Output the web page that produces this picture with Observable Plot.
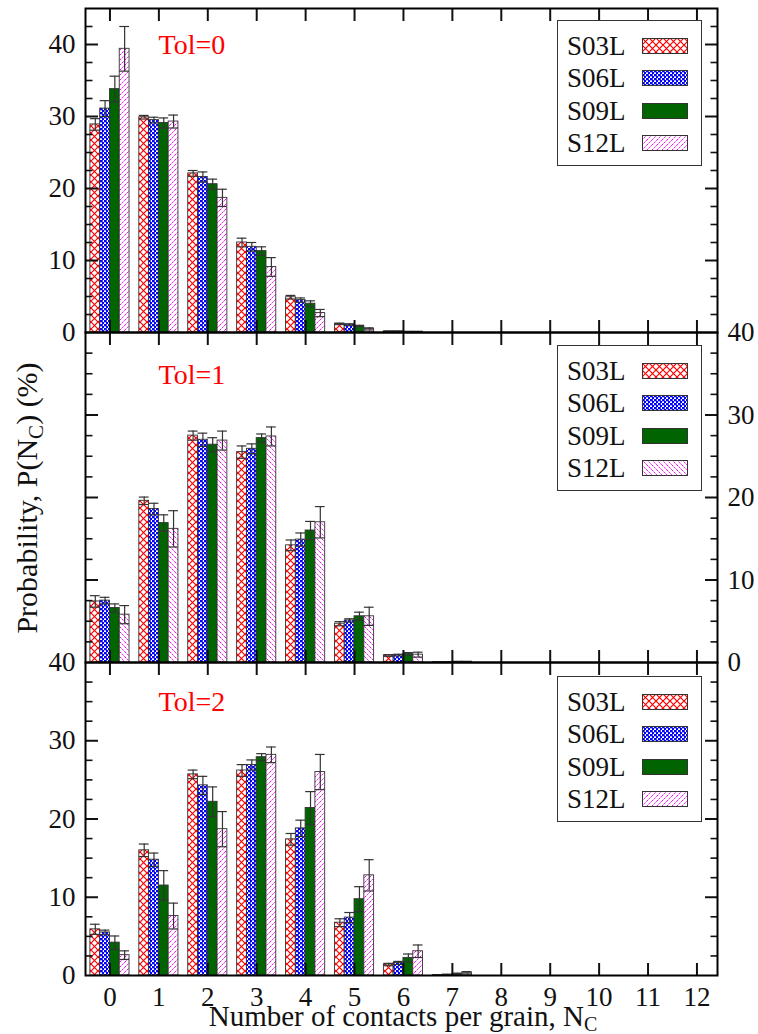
<!DOCTYPE html>
<html>
<head>
<meta charset="utf-8">
<script src="https://cdn.jsdelivr.net/npm/d3@7"></script>
<script src="https://cdn.jsdelivr.net/npm/@observablehq/plot@0.6"></script>
<style>
  html, body { margin: 0; padding: 0; background: #fff; }
  #wrap { position: relative; width: 758px; height: 1034px; overflow: hidden; font-family: "Liberation Serif", serif; }
  #wrap .panel { position: absolute; left: 0; }
  .legend { position: absolute; left: 557px; width: 143px; height: 144px; border: 1.3px solid #333; background: #fff; }
  .legend .row { position: absolute; left: 0; width: 143px; height: 32px; display: flex; align-items: center; }
  .legend .row span { position: absolute; left: 9px; font-size: 27px; line-height: 32px; color: #111; }
  .legend .row svg { position: absolute; left: 84px; top: 8px; }
  #overlay { position: absolute; left: 0; top: 0; pointer-events: none; }
</style>
</head>
<body>
<svg width="0" height="0" style="position:absolute">
  <defs>
    <pattern id="pRed" patternUnits="userSpaceOnUse" width="7" height="7">
      <rect width="7" height="7" fill="#fff"/>
      <path d="M0,0L7,7M7,0L0,7" stroke="#ff0000" stroke-width="1.2" fill="none"/>
    </pattern>
    <pattern id="pBlue" patternUnits="userSpaceOnUse" width="4" height="4">
      <rect width="4" height="4" fill="#fff"/>
      <rect x="0" y="0" width="2.3" height="2.3" fill="#0000ff"/>
      <rect x="2" y="2" width="2.3" height="2.3" fill="#0000ff"/>
      <rect x="2" y="0" width="0.6" height="4" fill="#0000ff"/>
    </pattern>
    <pattern id="pGreen" patternUnits="userSpaceOnUse" width="4" height="4">
      <rect width="4" height="4" fill="#006400"/>
    </pattern>
    <pattern id="pPinkF" patternUnits="userSpaceOnUse" width="5" height="5">
      <rect width="5" height="5" fill="#fff"/>
      <path d="M0,5L5,0M-1,1L1,-1M4,6L6,4" stroke="#ff00ff" stroke-width="1" stroke-dasharray="2 1" fill="none"/>
    </pattern>
    <pattern id="pPinkB" patternUnits="userSpaceOnUse" width="5" height="5">
      <rect width="5" height="5" fill="#fff"/>
      <path d="M0,0L5,5M-1,4L1,6M4,-1L6,1" stroke="#ff00ff" stroke-width="1" stroke-dasharray="2 1" fill="none"/>
    </pattern>
  </defs>
</svg>
<div id="wrap"></div>
<script>
// ---------------- data ----------------
const contacts = [0, 1, 2, 3, 4, 5, 6, 7, 8, 9, 10, 11, 12];
const seriesNames = ["S03L", "S06L", "S09L", "S12L"];
const yLabelTicks = [0, 10, 20, 30, 40];
const panelTitles = ["Tol=0", "Tol=1", "Tol=2"];

// Tol=0 (rows: S03L, S06L, S09L, S12L; columns: N_C = 0,1,2,...)
const tol0Values = [
  [28.9, 29.9, 22.1, 12.5, 4.9, 1.2, 0.15],
  [31.1, 29.5, 21.6, 11.9, 4.5, 1.1, 0.15],
  [33.8, 29.1, 20.6, 11.3, 4.0, 0.9, 0.1],
  [39.4, 29.3, 18.7, 9.1, 2.7, 0.5, 0.1]
];
const tol0Errors = [
  [0.8, 0.25, 0.4, 0.6, 0.25, 0.1, 0.05],
  [1.1, 0.4, 0.7, 0.6, 0.3, 0.1, 0.05],
  [1.8, 0.7, 0.7, 0.6, 0.4, 0.1, 0.05],
  [3.1, 0.9, 1.2, 1.3, 0.5, 0.15, 0.05]
];

// Tol=1
const tol1Values = [
  [7.4, 19.6, 27.5, 25.5, 14.2, 4.7, 0.85, 0.05],
  [7.5, 18.6, 27.0, 25.9, 14.9, 5.1, 0.9, 0.05],
  [6.6, 16.9, 26.4, 27.2, 16.0, 5.6, 1.05, 0.1],
  [5.8, 16.2, 26.9, 27.4, 17.0, 5.6, 0.95, 0.1]
];
const tol1Errors = [
  [0.7, 0.45, 0.55, 0.75, 0.65, 0.25, 0.1, 0],
  [0.4, 0.7, 0.8, 0.6, 0.8, 0.2, 0.1, 0],
  [0.5, 1.0, 0.85, 0.5, 1.1, 0.5, 0.15, 0],
  [1.1, 2.2, 1.15, 1.15, 1.9, 1.1, 0.3, 0]
];

// Tol=2
const tol2Values = [
  [5.9, 16.0, 25.7, 26.2, 17.4, 6.75, 1.4, 0.05],
  [5.5, 14.8, 24.3, 26.9, 18.8, 7.4, 1.6, 0.1],
  [4.2, 11.5, 22.2, 27.9, 21.4, 9.75, 2.25, 0.2],
  [2.6, 7.6, 18.7, 28.2, 26.0, 12.8, 3.1, 0.35]
];
const tol2Errors = [
  [0.65, 0.8, 0.55, 0.75, 0.75, 0.5, 0.15, 0.03],
  [0.3, 0.85, 1.15, 0.65, 1.05, 0.65, 0.2, 0.05],
  [0.85, 1.9, 1.9, 0.45, 2.1, 1.6, 0.5, 0.1],
  [0.55, 1.65, 2.25, 1.0, 2.25, 2.0, 0.8, 0.15]
];

// ---------------- drawing ----------------
const FONT = "Liberation Serif, serif";
const wrap = document.getElementById("wrap");

function buildRows(values, errors) {
  const rows = [];
  seriesNames.forEach((s, si) => {
    contacts.forEach((n, i) => {
      const v = values[si][i];
      if (v == null || v <= 0) return;
      rows.push({n, s, si, v, e: (errors[si][i] || 0)});
    });
  });
  return rows;
}

const bx1 = d => d.n - 0.4 + 0.2 * d.si;
const bx2 = d => d.n - 0.2 + 0.2 * d.si;
const bxc = d => d.n - 0.3 + 0.2 * d.si;

function minorTicks(max) {
  const t = [];
  for (let v = 2.5; v < max; v += 2.5) if (v % 10 !== 0) t.push(v);
  return t;
}

function makePanel(cfg) {
  const rows = buildRows(cfg.values, cfg.errors);
  const errRows = rows.filter(d => d.e > 0);
  const majors = [10, 20, 30, 40].filter(v => v < cfg.yMax);
  const minors = minorTicks(cfg.yMax);
  const marks = [];
  seriesNames.forEach((s, si) => {
    marks.push(Plot.rect(rows.filter(d => d.si === si), {
      x1: bx1, x2: bx2, y1: () => 0, y2: "v",
      fill: `url(#${cfg.patterns[si]})`, stroke: "#333", strokeWidth: 0.9
    }));
  });
  marks.push(Plot.ruleX(errRows, {x: bxc, y1: d => d.v - d.e, y2: d => d.v + d.e, stroke: "#333", strokeWidth: 1.2}));
  marks.push(Plot.ruleY(errRows, {y: d => d.v + d.e, x1: bx1, x2: bx2, stroke: "#333", strokeWidth: 1.2}));
  marks.push(Plot.ruleY(errRows, {y: d => d.v - d.e, x1: bx1, x2: bx2, stroke: "#333", strokeWidth: 1.2}));

  for (const anchor of ["top", "bottom"]) {
    marks.push(Plot.axisX({ticks: contacts, anchor, tickSize: -12, tickFormat: () => "", strokeWidth: 2, label: null}));
  }
  if (cfg.xLabels) {
    marks.push(Plot.axisX({ticks: contacts, anchor: "bottom", tickSize: 0, tickPadding: 11, label: null, fontSize: 27}));
  }
  for (const anchor of ["left", "right"]) {
    marks.push(Plot.axisY({ticks: majors, anchor, tickSize: -13, tickFormat: () => "", strokeWidth: 2, label: null}));
    marks.push(Plot.axisY({ticks: minors, anchor, tickSize: -7.5, tickFormat: () => "", strokeWidth: 1.6, label: null}));
  }
  marks.push(Plot.axisY({ticks: yLabelTicks, anchor: cfg.labelSide, tickSize: 0, tickPadding: 10, label: null, fontSize: 27}));
  marks.push(Plot.frame({stroke: "black", strokeWidth: 2}));
  marks.push(Plot.text([cfg.title], {
    text: d => d, frameAnchor: "top-left", dx: 73, dy: cfg.titleDy,
    textAnchor: "start", lineAnchor: "middle", fill: "#ff0000", fontSize: 28
  }));

  const svg = Plot.plot({
    width: 758,
    height: cfg.mt + cfg.ph + cfg.mb,
    marginLeft: 85, marginRight: 41, marginTop: cfg.mt, marginBottom: cfg.mb,
    x: {domain: [-0.5, 12.42]},
    y: {domain: [0, cfg.yMax]},
    style: {background: "transparent", overflow: "visible", fontFamily: FONT, fontSize: "27px", color: "#111"},
    marks
  });
  svg.classList.add("panel");
  svg.style.top = cfg.top + "px";
  svg.style.position = "absolute";
  wrap.appendChild(svg);
}

function makeLegend(top, patterns) {
  const box = document.createElement("div");
  box.className = "legend";
  box.style.top = top + "px";
  seriesNames.forEach((s, i) => {
    const row = document.createElement("div");
    row.className = "row";
    row.style.top = (9 + i * 32.3) + "px";
    row.innerHTML = `<span>${s}</span><svg width="46" height="16"><rect x="0.5" y="0.5" width="45" height="15" fill="url(#${patterns[i]})" stroke="#333" stroke-width="1"/></svg>`;
    box.appendChild(row);
  });
  wrap.appendChild(box);
}

const patsF = ["pRed", "pBlue", "pGreen", "pPinkF"];
const patsB = ["pRed", "pBlue", "pGreen", "pPinkB"];

makePanel({values: tol0Values, errors: tol0Errors, yMax: 45, top: 0, mt: 8, ph: 324, mb: 20,
  patterns: patsF, labelSide: "left", title: panelTitles[0], titleDy: 37, xLabels: false});
makePanel({values: tol1Values, errors: tol1Errors, yMax: 40, top: 312, mt: 20, ph: 330, mb: 20,
  patterns: patsB, labelSide: "right", title: panelTitles[1], titleDy: 43, xLabels: false});
makePanel({values: tol2Values, errors: tol2Errors, yMax: 40, top: 642, mt: 20, ph: 313, mb: 40,
  patterns: patsF, labelSide: "left", title: panelTitles[2], titleDy: 40, xLabels: true});

makeLegend(20, patsF);
makeLegend(345, patsB);
makeLegend(676, patsF);

// axis titles
const ns = "http://www.w3.org/2000/svg";
const ov = document.createElementNS(ns, "svg");
ov.setAttribute("id", "overlay");
ov.setAttribute("width", 758);
ov.setAttribute("height", 1034);
ov.innerHTML = `
  <text x="403" y="1026" text-anchor="middle" font-family="${FONT}" font-size="29" fill="#111">Number of contacts per grain, N<tspan font-size="20" dy="5">C</tspan></text>
  <text transform="translate(37,498) rotate(-90)" text-anchor="middle" font-family="${FONT}" font-size="30" fill="#111">Probability, P(N<tspan font-size="21" dy="6">C</tspan><tspan dy="-6">) (%)</tspan></text>
`;
wrap.appendChild(ov);
</script>
</body>
</html>
